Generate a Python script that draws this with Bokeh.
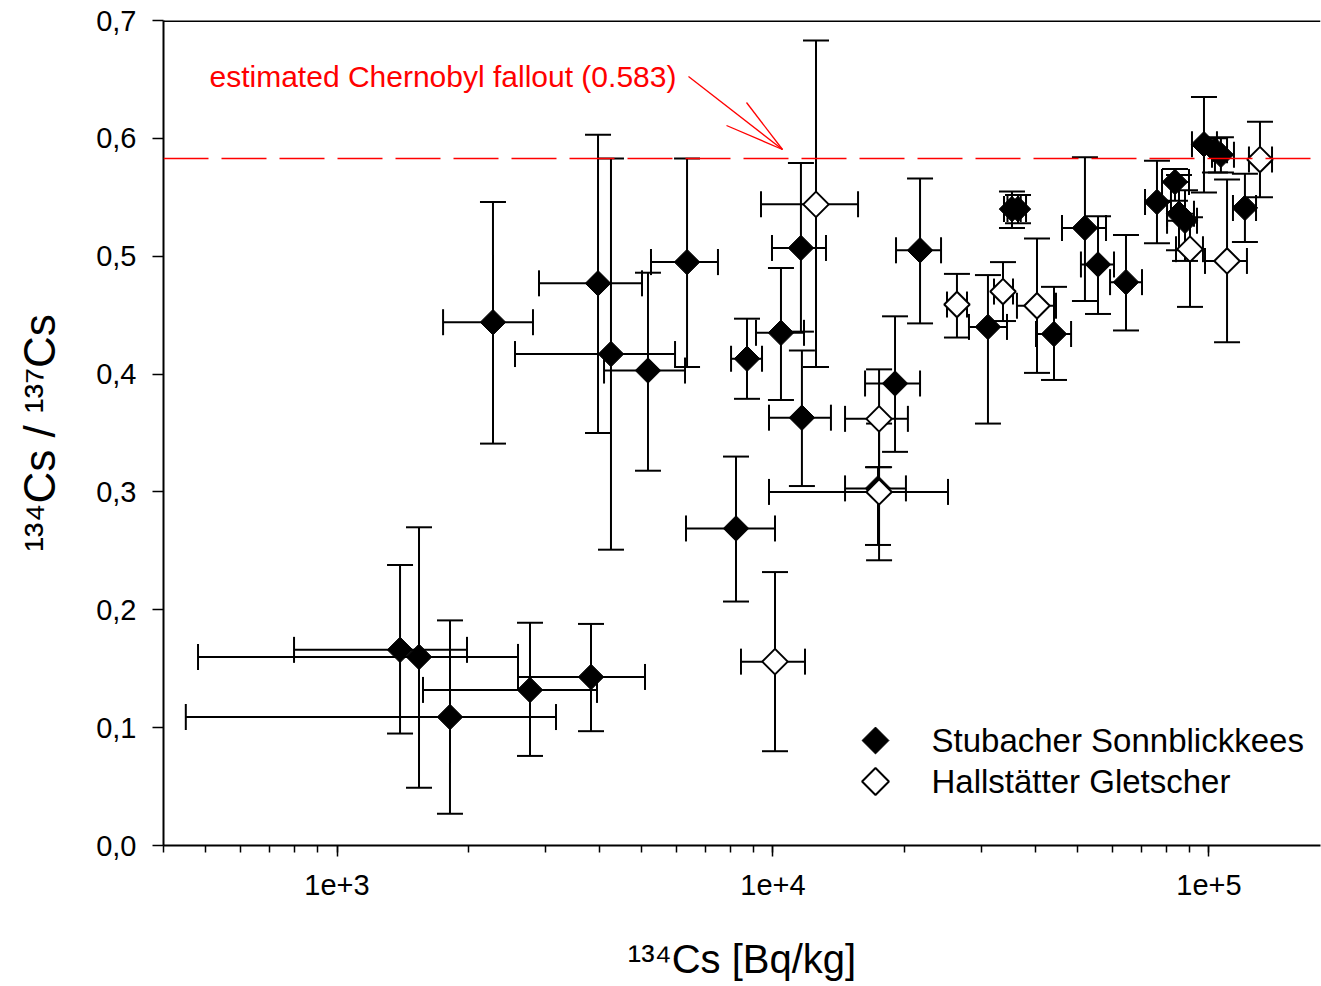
import numpy as np
from bokeh.plotting import figure
from bokeh.models import (ColumnDataSource, Whisker, TeeHead, Range1d, LinearScale, Label, Span,
                          FixedTicker, CustomJSTickFormatter)
from bokeh.embed import file_html
from bokeh.resources import INLINE

FONT = "Liberation Sans"

# ---- Stubacher Sonnblickkees (filled) ----
s_x = [1395, 1542, 1816, 2771, 3825, 2279, 3969, 4250, 5167, 6351, 8226, 8718, 10430, 11590, 11650,
       19050, 21740, 17410, 31120, 35330, 36470, 44110, 51940, 55650, 64510, 75980, 83560, 85350,
       88100, 97390, 103200, 106500, 120900]
s_xlo = [797, 480, 450, 1575, 2601, 1751, 2906, 2560, 4097, 5250, 6317, 8013, 9141, 9947, 9790,
         16260, 19150, 14630, 28150, 33870, 34500, 40110, 46010, 50850, 59300, 71330, 78030, 80130,
         80130, 91410, 97390, 101600, 113500]
s_xhi = [1987, 2601, 3179, 3948, 5087, 2815, 5007, 5961, 6284, 7478, 10106, 9437, 11780, 13230, 13580,
         21740, 24290, 20180, 34410, 37000, 38050, 48270, 58050, 60550, 70210, 81810, 89980, 92380,
         93870, 104300, 110000, 114100, 128200]
s_y = [0.166, 0.160, 0.109, 0.132, 0.143, 0.444, 0.477, 0.417, 0.403, 0.495, 0.269, 0.413, 0.435,
       0.507, 0.363, 0.392, 0.505, 0.303, 0.440, 0.540, 0.540, 0.434, 0.524, 0.493, 0.478, 0.546,
       0.563, 0.536, 0.530, 0.595, 0.590, 0.586, 0.541]
s_ylo = [0.095, 0.049, 0.027, 0.076, 0.097, 0.341, 0.350, 0.251, 0.318, 0.406, 0.207, 0.379, 0.378,
         0.436, 0.305, 0.334, 0.443, 0.255, 0.358, 0.524, 0.528, 0.395, 0.462, 0.451, 0.437, 0.511,
         0.547, 0.505, 0.496, 0.554, 0.571, 0.571, 0.512]
s_yhi = [0.238, 0.270, 0.191, 0.189, 0.188, 0.546, 0.603, 0.583, 0.486, 0.583, 0.330, 0.447, 0.490,
         0.579, 0.420, 0.449, 0.566, 0.321, 0.484, 0.555, 0.552, 0.474, 0.584, 0.534, 0.518, 0.581,
         0.574, 0.569, 0.556, 0.635, 0.600, 0.601, 0.570]

# ---- Hallstätter Gletscher (open) ----
h_x = [12550, 17510, 17510, 10106, 26420, 33690, 40320, 90450, 110000, 130900]
h_xlo = [9386, 14630, 9790, 8444, 25070, 32130, 36270, 84010, 97910, 123500]
h_xhi = [15670, 20390, 25200, 11840, 27860, 35520, 44580, 96870, 122200, 139500]
h_y = [0.544, 0.362, 0.300, 0.156, 0.459, 0.470, 0.458, 0.506, 0.496, 0.582]
h_ylo = [0.406, 0.321, 0.242, 0.080, 0.431, 0.445, 0.401, 0.457, 0.427, 0.550]
h_yhi = [0.683, 0.404, 0.358, 0.232, 0.485, 0.495, 0.515, 0.533, 0.565, 0.614]

series_names = ["Stubacher Sonnblickkees", "Hallstätter Gletscher"]
fallout_ratio = 0.583
fallout_text = "estimated Chernobyl fallout (0.583)"
x_title = "¹³⁴Cs [Bq/kg]"
y_title = "¹³⁴Cs / ¹³⁷Cs"
y_ticks = [0.0, 0.1, 0.2, 0.3, 0.4, 0.5, 0.6, 0.7]
x_major = [1e3, 1e4, 1e5]

W, H = 1321, 986
LB, RB, TB, BB = 163, 1, 20, 141
FW, FH = W - LB - RB, H - TB - BB

p = figure(width=W, height=H, x_axis_type="log",
           x_range=Range1d(400, 180200), y_range=Range1d(0, 0.7),
           output_backend="svg", toolbar_location=None,
           min_border_left=LB, min_border_right=RB, min_border_top=TB, min_border_bottom=BB)
p.xgrid.visible = False
p.ygrid.visible = False
p.outline_line_color = None
p.background_fill_color = "white"
p.border_fill_color = "white"

# pixel-space helper ranges for annotations
p.extra_x_ranges = {"px": Range1d(0, FW)}
p.extra_y_ranges = {"px": Range1d(0, FH)}
p.extra_x_scales = {"px": LinearScale()}
p.extra_y_scales = {"px": LinearScale()}

# axes
minor = [m * 10 ** e for e in range(2, 6) for m in range(1, 10)]
p.xaxis.ticker = FixedTicker(ticks=x_major, minor_ticks=minor)
p.xaxis.formatter = CustomJSTickFormatter(code="return tick.toExponential();")
p.yaxis.ticker = FixedTicker(ticks=y_ticks)
p.yaxis.formatter = CustomJSTickFormatter(code="return tick.toFixed(1).replace('.', ',');")
for ax in (p.xaxis[0], p.yaxis[0]):
    ax.axis_line_width = 2
    ax.axis_line_color = "black"
    ax.major_tick_line_width = 1.5
    ax.minor_tick_line_width = 1.5
    ax.major_tick_out = 11
    ax.major_tick_in = 0
    ax.minor_tick_out = 7
    ax.minor_tick_in = 0
    ax.major_label_text_font = FONT
    ax.major_label_text_font_size = "29px"
    ax.major_label_text_color = "black"
    ax.axis_label_text_font = FONT
    ax.axis_label_text_font_style = "normal"
    ax.axis_label_text_color = "black"
p.yaxis.minor_tick_line_color = None
p.yaxis.major_label_standoff = 16
p.xaxis.major_label_standoff = 18
p.xaxis.axis_label = x_title
p.xaxis.axis_label_text_font_size = "40px"
p.xaxis.axis_label_standoff = 39
p.yaxis.axis_label = y_title
p.yaxis.axis_label_text_font_size = "44px"
p.yaxis.axis_label_standoff = 29

# top frame line
p.add_layout(Span(location=0.7, dimension="width", line_color="black", line_width=3))

# fallout line
p.add_layout(Span(location=fallout_ratio, dimension="width", line_color="red",
                  line_width=1.5, line_dash="45 13"))

src_s = ColumnDataSource(dict(x=s_x, xlo=s_xlo, xhi=s_xhi, y=s_y, ylo=s_ylo, yhi=s_yhi))
src_h = ColumnDataSource(dict(x=h_x, xlo=h_xlo, xhi=h_xhi, y=h_y, ylo=h_ylo, yhi=h_yhi))

def tee():
    return TeeHead(size=26, line_width=2, line_color="black")

for src in (src_s, src_h):
    wy = Whisker(source=src, base="x", lower="ylo", upper="yhi", dimension="height",
                 line_width=2, line_color="black", upper_head=tee(), lower_head=tee(), level="underlay")
    wx = Whisker(source=src, base="y", lower="xlo", upper="xhi", dimension="width",
                 line_width=2, line_color="black", upper_head=tee(), lower_head=tee(), level="underlay")
    p.add_layout(wy)
    p.add_layout(wx)

p.scatter("x", "y", source=src_s, marker="square", angle=np.pi / 4, size=18,
          fill_color="black", line_color="black", line_width=1)
p.scatter("x", "y", source=src_h, marker="square", angle=np.pi / 4, size=18,
          fill_color="white", line_color="black", line_width=2)

# legend (drawn in pixel space)
p.scatter(x=[712], y=[105], marker="square", angle=np.pi / 4, size=19, fill_color="black",
          line_color="black", line_width=1, x_range_name="px", y_range_name="px")
p.scatter(x=[712], y=[64], marker="square", angle=np.pi / 4, size=19, fill_color="white",
          line_color="black", line_width=2, x_range_name="px", y_range_name="px")
for txt, yy in zip(series_names, [105, 64]):
    p.add_layout(Label(x=768, y=yy, x_units="screen", y_units="screen", text=txt,
                       text_font=FONT, text_font_size="33px", text_color="black",
                       text_baseline="alphabetic", text_align="left"))

# fallout annotation
p.add_layout(Label(x=46, y=769, x_units="screen", y_units="screen", text=fallout_text,
                   text_font=FONT, text_font_size="30px", text_color="red",
                   text_baseline="alphabetic", text_align="left"))
p.segment(x0=[525, 583, 563], y0=[769, 743, 720], x1=[619, 619, 619], y1=[696, 696, 696],
          line_color="red", line_width=1.3, x_range_name="px", y_range_name="px")

open("out.html", "w").write(file_html(p, INLINE))
